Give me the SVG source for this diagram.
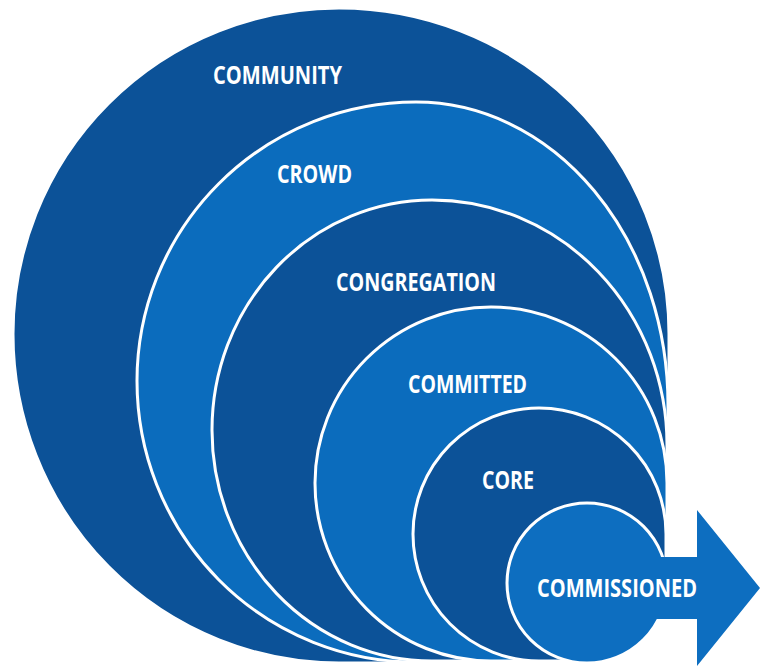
<svg xmlns="http://www.w3.org/2000/svg" width="761" height="666" viewBox="0 0 761 666">
  <style>
    .ring { stroke: #ffffff; stroke-width: 3; stroke-linejoin: round; }
    .dark { fill: #0c5298; }
    .light { fill: #0b6cbd; }
    .accent { fill: #0d6ec0; }
    .label { font-family: "Open Sans", "Liberation Sans", sans-serif; font-weight: 700; font-size: 25px; fill: #ffffff; }
  </style>
  <rect width="761" height="666" fill="#ffffff"/>

  <!-- Nested levels, outermost first; each shares the right and bottom edges -->
  <g id="community">
    <path class="dark ring" d="M13,334 A326,326 0 0 1 339,8 A330,326 0 0 1 669,334 L669,583 A82,80 0 0 1 587,663 L339,663 A326,329 0 0 1 13,334 Z"/>
    <text class="label" x="213" y="84" textLength="129" lengthAdjust="spacingAndGlyphs">COMMUNITY</text>
  </g>

  <g id="crowd">
    <path class="light ring" d="M137,381 A279,279 0 0 1 416,102 A252,303 0 0 1 668,405 L668,583 A81,79 0 0 1 587,662 L416,662 A279,281 0 0 1 137,381 Z"/>
    <text class="label" x="277" y="183" textLength="75" lengthAdjust="spacingAndGlyphs">CROWD</text>
  </g>

  <g id="congregation">
    <path class="dark ring" d="M212,430 A220,230 0 0 1 432,200 A235,245 0 0 1 667,445 L667,583 A80,78 0 0 1 587,661 L432,661 A220,231 0 0 1 212,430 Z"/>
    <text class="label" x="336" y="291" textLength="160" lengthAdjust="spacingAndGlyphs">CONGREGATION</text>
  </g>

  <g id="committed">
    <path class="light ring" d="M315,483 A176,176 0 0 1 491,307 A176,176 0 0 1 667,483 L667,583 A80,78 0 0 1 587,661 L491,661 A176,178 0 0 1 315,483 Z"/>
    <text class="label" x="408" y="393" textLength="119" lengthAdjust="spacingAndGlyphs">COMMITTED</text>
  </g>

  <g id="core">
    <path class="dark ring" d="M413,534 A126,126 0 0 1 539,408 A127,126 0 0 1 666,534 L666,583 A79,78 0 0 1 587,661 L539,661 A126,127 0 0 1 413,534 Z"/>
    <text class="label" x="482" y="489" textLength="52" lengthAdjust="spacingAndGlyphs">CORE</text>
  </g>

  <g id="commissioned">
    <circle class="accent ring" cx="587" cy="583" r="80"/>
    <polygon class="accent" points="640,557 697,557 697,510 760,588 697,666 697,619 640,619"/>
    <text class="label" x="537" y="597" textLength="160" lengthAdjust="spacingAndGlyphs">COMMISSIONED</text>
  </g>

  <g id="connectors"/>
</svg>
